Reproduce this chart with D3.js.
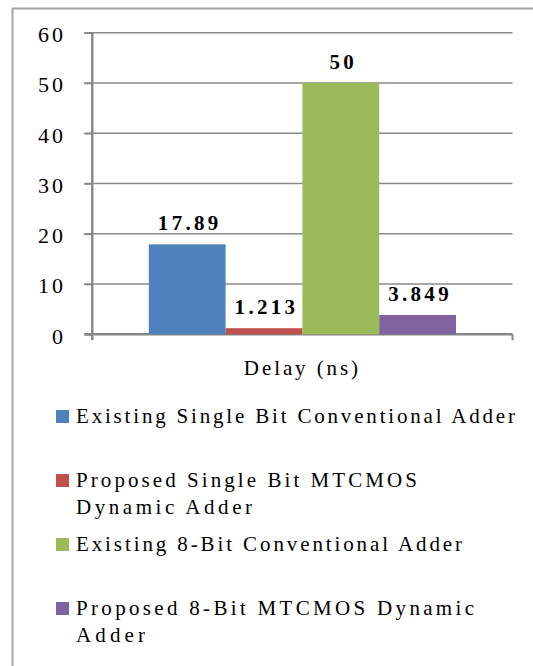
<!DOCTYPE html>
<meta charset="utf-8">
<script src="https://d3js.org/d3.v7.min.js"></script>
<style>
  html, body { margin: 0; padding: 0; background: #fff; }
  svg { display: block; }
</style>
<body>
<div id="my_dataviz"></div>
<script>

// data
var category = ["Delay (ns)"];
var seriesNames = [
  "Existing Single Bit Conventional Adder",
  "Proposed Single Bit MTCMOS Dynamic Adder",
  "Existing 8-Bit Conventional Adder",
  "Proposed 8-Bit MTCMOS Dynamic Adder"
];
var seriesValues = [17.89, 1.213, 50, 3.849];
var valueLabels = ["17.89", "1.213", "50", "3.849"];
var yTicks = [0, 10, 20, 30, 40, 50, 60];
// where the legend text breaks onto a second line
var legendLines = [
  ["Existing Single Bit Conventional Adder"],
  ["Proposed Single Bit MTCMOS", "Dynamic Adder"],
  ["Existing 8-Bit Conventional Adder"],
  ["Proposed 8-Bit MTCMOS Dynamic", "Adder"]
];
var colors = ["#4f81bd", "#c0504d", "#9bbb59", "#8064a2"];

// layout: the source was typeset with wide letter spacing, so each legend
// line is stretched to the width it has in the picture
var legendWidths = [[439], [341, 176], [386], [398, 69]];

var FONT = "Liberation Serif";
var W = 533, H = 666;
var plot = {left: 92.3, right: 512.5, top: 32.7, bottom: 334.3};

var svg = d3.select("#my_dataviz")
  .append("svg")
    .attr("width", W)
    .attr("height", H);

// outer frame (runs off the right and bottom of the picture)
svg.append("rect")
  .attr("x", 12.5).attr("y", 8.5)
  .attr("width", 600).attr("height", 700)
  .attr("fill", "none")
  .attr("stroke", "#a6a6a6")
  .attr("stroke-width", 2);

var y = d3.scaleLinear()
  .domain([0, 60])
  .range([plot.bottom, plot.top]);

var x0 = d3.scaleBand()
  .domain(category)
  .range([plot.left, plot.right])
  .paddingInner(0)
  .paddingOuter(0.184);

var x1 = d3.scaleBand()
  .domain(seriesNames)
  .range([0, x0.bandwidth()])
  .padding(0);

// gridlines
svg.append("g")
  .selectAll("line")
  .data(yTicks.filter(function(d) { return d > 0; }))
  .enter()
  .append("line")
    .attr("x1", plot.left - 8)
    .attr("x2", plot.right)
    .attr("y1", function(d) { return y(d); })
    .attr("y2", function(d) { return y(d); })
    .attr("stroke", "#8a8a8a")
    .attr("stroke-width", 1.6);

// Y axis
var yAxis = svg.append("g")
  .attr("transform", "translate(" + plot.left + ",0)")
  .call(d3.axisLeft(y).tickValues(yTicks).tickSize(8).tickPadding(18.3).tickSizeOuter(0));
yAxis.select(".domain").remove();
yAxis.selectAll(".tick line").attr("stroke", "#868686").attr("stroke-width", 1.6);
yAxis.selectAll(".tick text")
  .attr("dy", "0.4em")
  .attr("fill", "#000")
  .attr("font-family", FONT)
  .attr("font-size", 22)
  .attr("letter-spacing", 3);

svg.append("line")
  .attr("x1", plot.left).attr("x2", plot.left)
  .attr("y1", plot.top).attr("y2", plot.bottom + 6)
  .attr("stroke", "#868686").attr("stroke-width", 2.4);

// X axis
var xAxis = svg.append("g")
  .attr("transform", "translate(0," + plot.bottom + ")")
  .call(d3.axisBottom(x0).tickSize(0).tickPadding(26));
xAxis.select(".domain").remove();
xAxis.selectAll(".tick text")
  .attr("fill", "#000")
  .attr("dy", "0.71em")
  .attr("font-family", FONT)
  .attr("font-size", 21)
  .attr("letter-spacing", 2.9);

svg.append("line")
  .attr("x1", plot.left - 8).attr("x2", plot.right)
  .attr("y1", plot.bottom).attr("y2", plot.bottom)
  .attr("stroke", "#868686").attr("stroke-width", 2.4);
svg.append("line")
  .attr("x1", plot.right).attr("x2", plot.right)
  .attr("y1", plot.bottom).attr("y2", plot.bottom + 6)
  .attr("stroke", "#868686").attr("stroke-width", 2);

// bars
var bars = svg.append("g")
  .attr("transform", "translate(" + x0(category[0]) + ",0)");

bars.selectAll("rect")
  .data(seriesValues)
  .enter()
  .append("rect")
    .attr("x", function(d, i) { return x1(seriesNames[i]); })
    .attr("y", function(d) { return y(d); })
    .attr("width", x1.bandwidth())
    .attr("height", function(d) { return plot.bottom - y(d); })
    .attr("fill", function(d, i) { return colors[i]; });

bars.selectAll("text")
  .data(seriesValues)
  .enter()
  .append("text")
    .attr("x", function(d, i) { return x1(seriesNames[i]) + x1.bandwidth() / 2 + 2.5; })
    .attr("y", function(d) { return y(d) - 14; })
    .attr("text-anchor", "middle")
    .attr("font-family", FONT)
    .attr("font-size", 21)
    .attr("font-weight", "bold")
    .attr("letter-spacing", 3.3)
    .text(function(d, i) { return valueLabels[i]; });

// legend
var item = svg.append("g").selectAll("g")
  .data(seriesNames)
  .enter()
  .append("g")
    .attr("transform", function(d, i) { return "translate(56," + (423 + 64 * i) + ")"; });

item.append("rect")
  .attr("x", 0).attr("y", -13)
  .attr("width", 13).attr("height", 13)
  .attr("fill", function(d, i) { return colors[i]; });

item.each(function(d, i) {
  var g = d3.select(this);
  legendLines[i].forEach(function(line, j) {
    g.append("text")
      .attr("x", 20)
      .attr("y", j * 27)
      .attr("font-family", FONT)
      .attr("font-size", 21)
      .attr("textLength", legendWidths[i][j])
      .attr("lengthAdjust", "spacing")
      .text(line);
  });
});

</script>
</body>
